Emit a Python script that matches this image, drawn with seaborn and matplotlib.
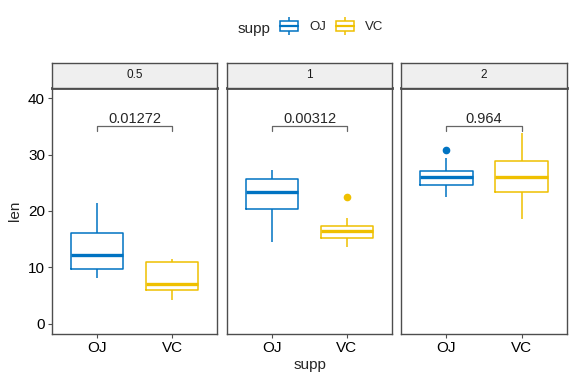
import pandas as pd
import seaborn as sns
import matplotlib.pyplot as plt
from matplotlib.patches import Patch
from matplotlib.lines import Line2D

# Dados (ToothGrowth)

doses = ["0.5", "1", "2"]
suplementos = ["OJ", "VC"]
cores = {"OJ": "#0073C2", "VC": "#EFC000"}

oj_05 = [15.2, 21.5, 17.6, 9.7, 14.5, 10.0, 8.2, 9.4, 16.5, 9.7]
oj_1 = [19.7, 23.3, 23.6, 26.4, 20.0, 25.2, 25.8, 21.2, 14.5, 27.3]
oj_2 = [25.5, 26.4, 22.4, 24.5, 24.8, 30.9, 26.4, 27.3, 29.4, 23.0]
vc_05 = [4.2, 11.5, 7.3, 5.8, 6.4, 10.0, 11.2, 11.2, 5.2, 7.0]
vc_1 = [16.5, 16.5, 15.2, 17.3, 22.5, 17.3, 13.6, 14.5, 18.8, 15.5]
vc_2 = [23.6, 18.5, 33.9, 25.5, 26.4, 32.5, 26.7, 21.5, 23.3, 29.5]

p_valores = ["0.01272", "0.00312", "0.964"]
altura_colchete = 35

valores = {
    ("OJ", "0.5"): oj_05, ("OJ", "1"): oj_1, ("OJ", "2"): oj_2,
    ("VC", "0.5"): vc_05, ("VC", "1"): vc_1, ("VC", "2"): vc_2,
}

linhas = []
for (supp, dose), lista in valores.items():
    for v in lista:
        linhas.append({"supp": supp, "dose": dose, "len": v})
df = pd.DataFrame(linhas)

sns.set_style("white")
plt.rcParams["font.family"] = ["Liberation Sans", "DejaVu Sans"]

fig = plt.figure(figsize=(5.76, 3.84), dpi=100)

W, H = 576, 384
paineis_x = [(52, 217), (227, 392), (401, 567)]
topo_faixa, topo_painel, base_painel = 63, 88, 334
cor_borda = "#4D4D4D"

for i, dose in enumerate(doses):
    x0, x1 = paineis_x[i]
    ax = fig.add_axes([x0 / W, 1 - base_painel / H, (x1 - x0) / W,
                       (base_painel - topo_painel) / H])
    faixa = fig.add_axes([x0 / W, 1 - topo_painel / H, (x1 - x0) / W,
                          (topo_painel - topo_faixa) / H])

    sub = df[df["dose"] == dose]
    sns.boxplot(
        data=sub, x="supp", y="len", hue="supp", order=suplementos,
        hue_order=suplementos, palette=cores, fill=False, width=0.7,
        linewidth=1.1, showcaps=False, legend=False,
        medianprops={"linewidth": 2.4},
        flierprops={"marker": "o", "markersize": 4.5},
        ax=ax,
    )
    for ln in ax.lines:
        if ln.get_marker() == "o":
            ln.set_markerfacecolor(ln.get_markeredgecolor())

    # colchete com p-valor
    y = altura_colchete
    ax.plot([0, 0, 1, 1], [y - 0.8, y, y, y - 0.8], color="#666666", lw=0.9)
    ax.text(0.5, y + 0.15, p_valores[i], ha="center", va="bottom",
            fontsize=10.5)

    ax.set_xlim(-0.6, 1.6)
    ax.set_ylim(-1.8, 41.8)
    ax.set_yticks([0, 10, 20, 30, 40])
    ax.tick_params(axis="both", length=3, width=0.8, color=cor_borda,
                   labelsize=11, labelcolor="black", pad=2,
                   bottom=True, left=(i == 0))
    if i != 0:
        ax.set_yticklabels([])
        ax.set_ylabel("")
    else:
        ax.set_ylabel("len", fontsize=11, labelpad=4)
    if i == 1:
        ax.set_xlabel("supp", fontsize=11, labelpad=2)
    else:
        ax.set_xlabel("")
    for sp in ax.spines.values():
        sp.set_color(cor_borda)
        sp.set_linewidth(1.0)
        sp.set_visible(True)
    ax.spines["top"].set_linewidth(2.0)

    faixa.set_facecolor("#EFEFEF")
    faixa.set_xticks([])
    faixa.set_yticks([])
    for sp in faixa.spines.values():
        sp.set_color(cor_borda)
        sp.set_linewidth(1.0)
    faixa.text(0.5, 0.5, dose, ha="center", va="center", fontsize=8.5,
               color="#1A1A1A", transform=faixa.transAxes)

# Legenda no topo
handles = []
for s in suplementos:
    bigode = Line2D([], [], linestyle="none", marker="|", markersize=13,
                    markeredgewidth=1.1, color=cores[s])
    caixa = Patch(facecolor="white", edgecolor=cores[s], linewidth=1.1)
    mediana = Line2D([], [], color=cores[s], lw=1.6)
    handles.append((bigode, caixa, mediana))

fig.text(270 / W, 1 - 29 / H, "supp", ha="right", va="center", fontsize=11)
fig.legend(handles, suplementos, loc="center left",
           bbox_to_anchor=(280 / W, 1 - 27 / H), ncol=2, frameon=False,
           fontsize=9.5, handlelength=1.4, handleheight=0.8,
           handletextpad=0.8, columnspacing=0.75, borderpad=0,
           borderaxespad=0)

fig.savefig("out.png", dpi=100)
